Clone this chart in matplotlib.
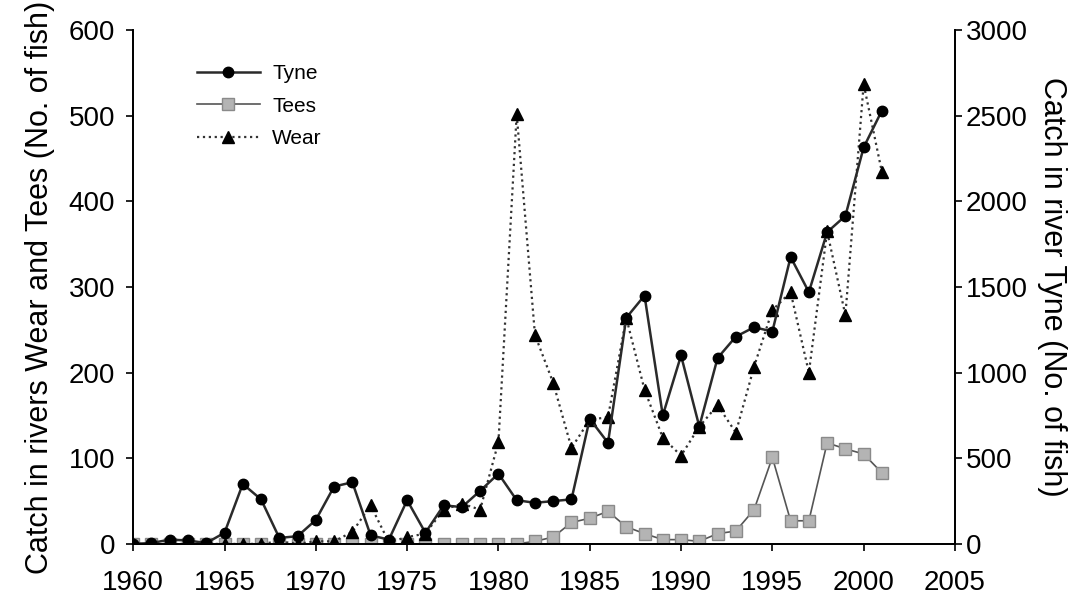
import matplotlib
matplotlib.use("Agg")
import matplotlib.pyplot as plt

plt.rcParams['font.family'] = ['Liberation Sans', 'DejaVu Sans']

years = list(range(1960, 2002))

# catch in river Tyne (right axis, No. of fish)
tyne = [0, 5, 25, 20, 5, 65, 350, 260, 35, 45,
        140, 335, 360, 50, 25, 255, 65, 225, 215, 310,
        410, 255, 240, 250, 260, 730, 590, 1320, 1450, 750,
        1100, 685, 1085, 1210, 1265, 1240, 1675, 1470, 1820, 1915,
        2315, 2530]

# catch in river Tees (left axis)
tees = [0, 0, 0, 0, 0, 0, 0, 0, 0, 0,
        0, 0, 0, 0, 0, 0, 0, 0, 0, 0,
        0, 0, 3, 8, 25, 30, 38, 20, 12, 5,
        5, 3, 12, 15, 40, 101, 27, 27, 118, 111,
        105, 83]

# catch in river Wear (left axis)
wear = [0, 0, 0, 0, 0, 0, 0, 0, 3, 0,
        3, 3, 14, 45, 2, 8, 12, 40, 47, 40,
        119, 502, 244, 188, 112, 145, 148, 264, 180, 124,
        103, 137, 162, 130, 207, 273, 294, 200, 365, 267,
        537, 434]

fig = plt.figure(figsize=(10.92, 6.01), dpi=100)
ax = fig.add_axes([0.122, 0.095, 0.7525, 0.855])
ax2 = ax.twinx()

l_tees, = ax.plot(years, tees, '-', color='#555555', lw=1.2, marker='s', ms=8.5,
                  mfc='#b4b4b4', mec='#8a8a8a', mew=1.0, label='Tees')
l_wear, = ax.plot(years, wear, ':', color='#333333', lw=1.6, marker='^', ms=8.5,
                  mfc='black', mec='black', label='Wear')
l_tyne, = ax2.plot(years, tyne, '-', color='#2a2a2a', lw=1.8, marker='o', ms=7.5,
                   mfc='black', mec='black', label='Tyne')

ax.set_xlim(1960, 2005)
ax.set_ylim(0, 600)
ax2.set_ylim(0, 3000)
ax.set_xticks(range(1960, 2006, 5))
ax.set_yticks(range(0, 601, 100))
ax2.set_yticks(range(0, 3001, 500))

for a in (ax, ax2):
    a.spines['top'].set_visible(False)
    a.tick_params(labelsize=20, length=5, width=1.2, direction='out', pad=3)
    for s in a.spines.values():
        s.set_linewidth(1.3)
ax.tick_params(axis='x', pad=14)
ax.tick_params(axis='y', pad=8)

ax.set_ylabel('Catch in rivers Wear and Tees (No. of fish)', fontsize=22, labelpad=10)
ax2.set_ylabel('Catch in river Tyne (No. of fish)', fontsize=22, rotation=270, labelpad=28)

ax2.legend([l_tyne, l_tees, l_wear], ['Tyne', 'Tees', 'Wear'], loc='upper left',
           bbox_to_anchor=(0.055, 0.97), frameon=False, fontsize=15,
           handlelength=3.0, labelspacing=0.65, handletextpad=0.6)

fig.savefig('out.png', dpi=100)
